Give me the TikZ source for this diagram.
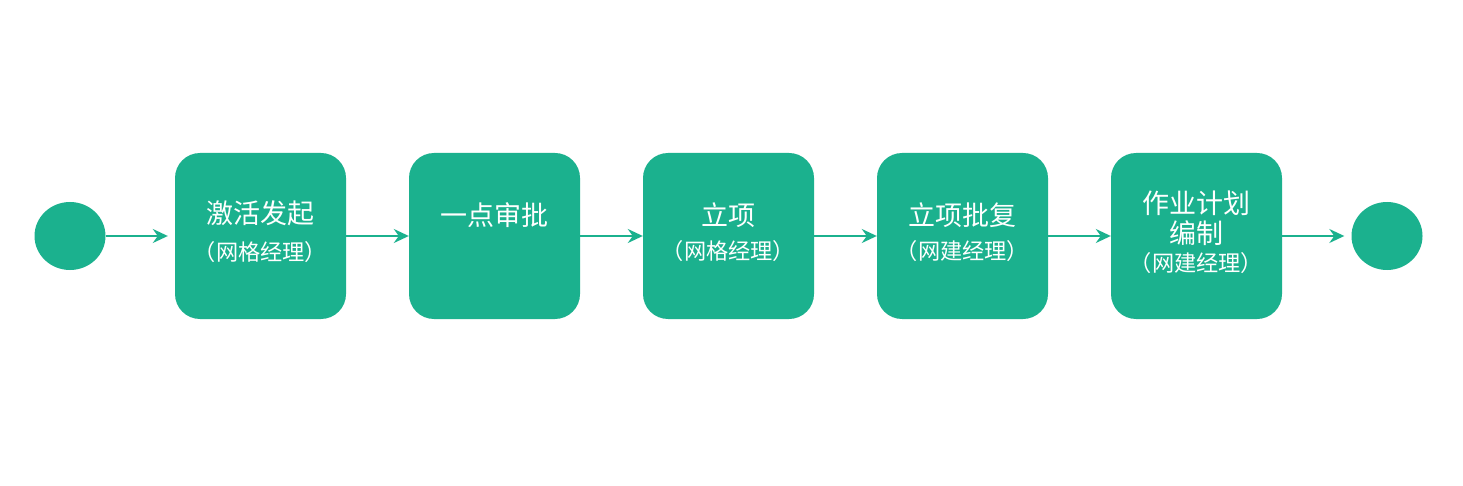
\documentclass[tikz,border=0pt]{standalone}
\usepackage{fontspec}
\setmainfont{Noto Sans CJK SC}
\usetikzlibrary{arrows.meta}
\definecolor{teal1}{HTML}{1BB18E}
\tikzset{
  stepbox/.style={fill=teal1, draw=none, rounded corners=25pt, minimum width=171pt, minimum height=166pt, inner sep=0pt},
  endpt/.style={fill=teal1, draw=none, ellipse, minimum width=71pt, minimum height=68pt, inner sep=0pt},
  conn/.style={draw=teal1, line width=2pt, -{Stealth[length=15pt, width=14pt, inset=5pt]}},
  maintxt/.style={text=white, font=\fontsize{27}{32}\selectfont, inner sep=0pt},
  subtxt/.style={text=white, font=\fontsize{22.2}{27}\selectfont, inner sep=0pt},
}
\usetikzlibrary{shapes.geometric}
\begin{document}
\begin{tikzpicture}[x=1pt,y=-1pt]
\useasboundingbox[fill=white] (0,0) rectangle (1463,486);
\node[endpt] (s) at (70,236) {};
\node[endpt] (e) at (1387,236) {};
\node[stepbox] (b1) at (260.5,236) {};
\node[stepbox] (b2) at (494.5,236) {};
\node[stepbox] (b3) at (728.5,236) {};
\node[stepbox] (b4) at (962.5,236) {};
\node[stepbox] (b5) at (1196.5,236) {};
\node[maintxt] (t1a) at (260.5,213) {激活发起};
\node[subtxt] (t1b) at (260.5,252) {（网格经理）};
\node[maintxt] (t2a) at (494.5,215) {一点审批};
\node[maintxt] (t3a) at (728.5,215) {立项};
\node[subtxt] (t3b) at (728.5,251) {（网格经理）};
\node[maintxt] (t4a) at (962.5,215) {立项批复};
\node[subtxt] (t4b) at (962.5,251) {（网建经理）};
\node[maintxt] (t5a) at (1196.5,203) {作业计划};
\node[maintxt] (t5b) at (1196.5,233) {编制};
\node[subtxt] (t5c) at (1196.5,263) {（网建经理）};
\draw[conn, shorten >=7pt] (s) -- (b1);
\draw[conn] (b1) -- (b2);
\draw[conn] (b2) -- (b3);
\draw[conn] (b3) -- (b4);
\draw[conn] (b4) -- (b5);
\draw[conn, shorten >=7pt] (b5) -- (e);
\end{tikzpicture}
\end{document}
